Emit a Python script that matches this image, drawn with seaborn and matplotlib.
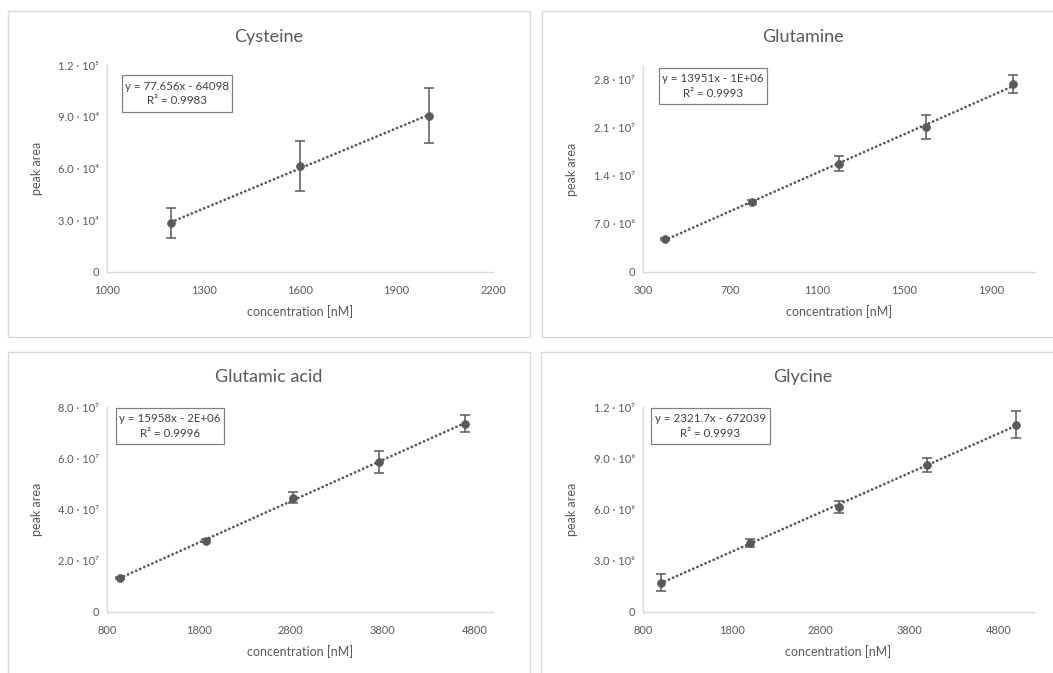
import numpy as np
import matplotlib
matplotlib.use("Agg")
import matplotlib.pyplot as plt
from matplotlib.patches import Rectangle
import seaborn as sns

# ---------------- data ----------------
titles = ["Cysteine", "Glutamine", "Glutamic acid", "Glycine"]
equations = ["y = 77.656x - 64098\nR² = 0.9983",
             "y = 13951x - 1E+06\nR² = 0.9993",
             "y = 15958x - 2E+06\nR² = 0.9996",
             "y = 2321.7x - 672039\nR² = 0.9993"]

cys_x = [1200, 1600, 2000]
cys_y = [28400, 61200, 90500]
cys_err = [8900, 14500, 16000]

gln_x = [400, 800, 1200, 1600, 2000]
gln_y = [4.8e6, 10.2e6, 15.8e6, 21.1e6, 27.4e6]
gln_err = [0.15e6, 0.25e6, 1.1e6, 1.7e6, 1.35e6]

glu_x = [940, 1880, 2820, 3760, 4700]
glu_y = [13.1e6, 27.9e6, 44.6e6, 58.6e6, 73.5e6]
glu_err = [0.4e6, 0.5e6, 2.2e6, 4.2e6, 3.4e6]

gly_x = [1000, 2000, 3000, 4000, 5000]
gly_y = [1.72e6, 4.06e6, 6.13e6, 8.61e6, 10.97e6]
gly_err = [0.48e6, 0.23e6, 0.35e6, 0.42e6, 0.8e6]

cys_xticks = [1000, 1300, 1600, 1900, 2200]
gln_xticks = [300, 700, 1100, 1500, 1900]
glu_xticks = [800, 1800, 2800, 3800, 4800]
gly_xticks = [800, 1800, 2800, 3800, 4800]

cys_yticks = [0, 3e4, 6e4, 9e4, 1.2e5]
cys_ylabels = ["0", "3.0 · 10⁴", "6.0 · 10⁴", "9.0 · 10⁴", "1.2 · 10⁵"]
gln_yticks = [0, 7e6, 1.4e7, 2.1e7, 2.8e7]
gln_ylabels = ["0", "7.0 · 10⁶", "1.4 · 10⁷", "2.1 · 10⁷", "2.8 · 10⁷"]
glu_yticks = [0, 2e7, 4e7, 6e7, 8e7]
glu_ylabels = ["0", "2.0 · 10⁷", "4.0 · 10⁷", "6.0 · 10⁷", "8.0 · 10⁷"]
gly_yticks = [0, 3e6, 6e6, 9e6, 1.2e7]
gly_ylabels = ["0", "3.0 · 10⁶", "6.0 · 10⁶", "9.0 · 10⁶", "1.2 · 10⁷"]

xlims = [(1000, 2200), (300, 2100), (800, 5000), (800, 5200)]
ylims = [(0, 1.2e5), (0, 3.0e7), (0, 8.0e7), (0, 1.2e7)]

# ---------------- style ----------------
sns.set_theme(style="white")
plt.rcParams['font.family'] = ['Lato', 'DejaVu Sans']
GRAY = "#595959"
TXT = "#595959"
SPINE = "#D9D9D9"

W, H = 1053, 673
fig = plt.figure(figsize=(W / 100, H / 100), dpi=100)


def fx(px):
    return px / W


def fy(py):
    return 1 - py / H


# panel frames (pixel coords: left, top, right, bottom)
frames = [(8, 11, 530, 337), (542, 11, 1062, 337), (8, 352, 530, 690), (541, 352, 1062, 690)]
# axes boxes (left, top, right, bottom)
axboxes = [(107, 65, 493, 272), (643, 66, 1035, 272), (107, 407, 493, 612), (643, 407, 1034, 612)]
title_pos = [(269, 37), (803, 37), (269, 377), (803, 377)]
eqboxes = [(122, 75, 232, 112), (659, 68, 767, 104), (116, 408, 224, 444), (651, 408, 770, 444)]
ylabel_px = [37, 572, 37, 572]

datasets = [(cys_x, cys_y, cys_err, cys_xticks, cys_yticks, cys_ylabels),
            (gln_x, gln_y, gln_err, gln_xticks, gln_yticks, gln_ylabels),
            (glu_x, glu_y, glu_err, glu_xticks, glu_yticks, glu_ylabels),
            (gly_x, gly_y, gly_err, gly_xticks, gly_yticks, gly_ylabels)]

for i, (xs, ys, es, xt, yt, yl) in enumerate(datasets):
    l, t, r, b = frames[i]
    fig.patches.append(Rectangle((fx(l), fy(b)), fx(r) - fx(l), fy(t) - fy(b),
                                 transform=fig.transFigure, fill=False,
                                 edgecolor=SPINE, linewidth=1.0))
    al, at, ar, ab = axboxes[i]
    axw = ar - al
    axh = ab - at
    ax = fig.add_axes([fx(al), fy(ab), fx(ar) - fx(al), fy(at) - fy(ab)])
    ax.set_facecolor("none")

    sns.regplot(x=np.array(xs), y=np.array(ys), ax=ax, ci=None, scatter=False,
                truncate=True,
                line_kws=dict(color=GRAY, linestyle=(0, (0.05, 1.55)), linewidth=2.0,
                              dash_capstyle="round", zorder=2))
    ax.errorbar(xs, ys, yerr=es, fmt="none", ecolor=GRAY, elinewidth=1.1,
                capsize=3.5, capthick=1.1, zorder=3)
    sns.scatterplot(x=xs, y=ys, ax=ax, color=GRAY, s=32, edgecolor=GRAY,
                    linewidth=0.5, zorder=4)

    ax.set_xlim(*xlims[i])
    ax.set_ylim(*ylims[i])
    ax.set_xticks(xt)
    ax.set_xticklabels([str(v) for v in xt])
    ax.set_yticks(yt)
    ax.set_yticklabels(yl)
    ax.tick_params(axis="both", length=0, labelsize=8, colors=TXT)
    ax.tick_params(axis="x", pad=9)
    ax.tick_params(axis="y", pad=6)
    for s in ["top", "right"]:
        ax.spines[s].set_visible(False)
    for s in ["left", "bottom"]:
        ax.spines[s].set_color(SPINE)
        ax.spines[s].set_linewidth(1.0)

    ax.set_xlabel("concentration [nM]", fontsize=9, color=TXT)
    ax.set_ylabel("peak area", fontsize=9, color=TXT)
    ax.xaxis.set_label_coords(0.5, -40 / axh)
    ax.xaxis.label.set_va("center")
    ax.yaxis.set_label_coords(-(al - ylabel_px[i]) / axw, 0.5)
    ax.yaxis.label.set_va("center")

    tx, ty = title_pos[i]
    fig.text(fx(tx), fy(ty), titles[i], ha="center", va="center", fontsize=13, color=TXT)

    el, et, er, eb = eqboxes[i]
    fig.patches.append(Rectangle((fx(el), fy(eb)), fx(er) - fx(el), fy(et) - fy(eb),
                                 transform=fig.transFigure, fill=True, facecolor="white",
                                 edgecolor="#808080", linewidth=0.9, zorder=5))
    fig.text(fx((el + er) / 2), fy((et + eb) / 2), equations[i], ha="center", va="center",
             fontsize=8.3, color="#404040", linespacing=1.35, zorder=6)

fig.savefig("out.png", dpi=100, facecolor="white")
